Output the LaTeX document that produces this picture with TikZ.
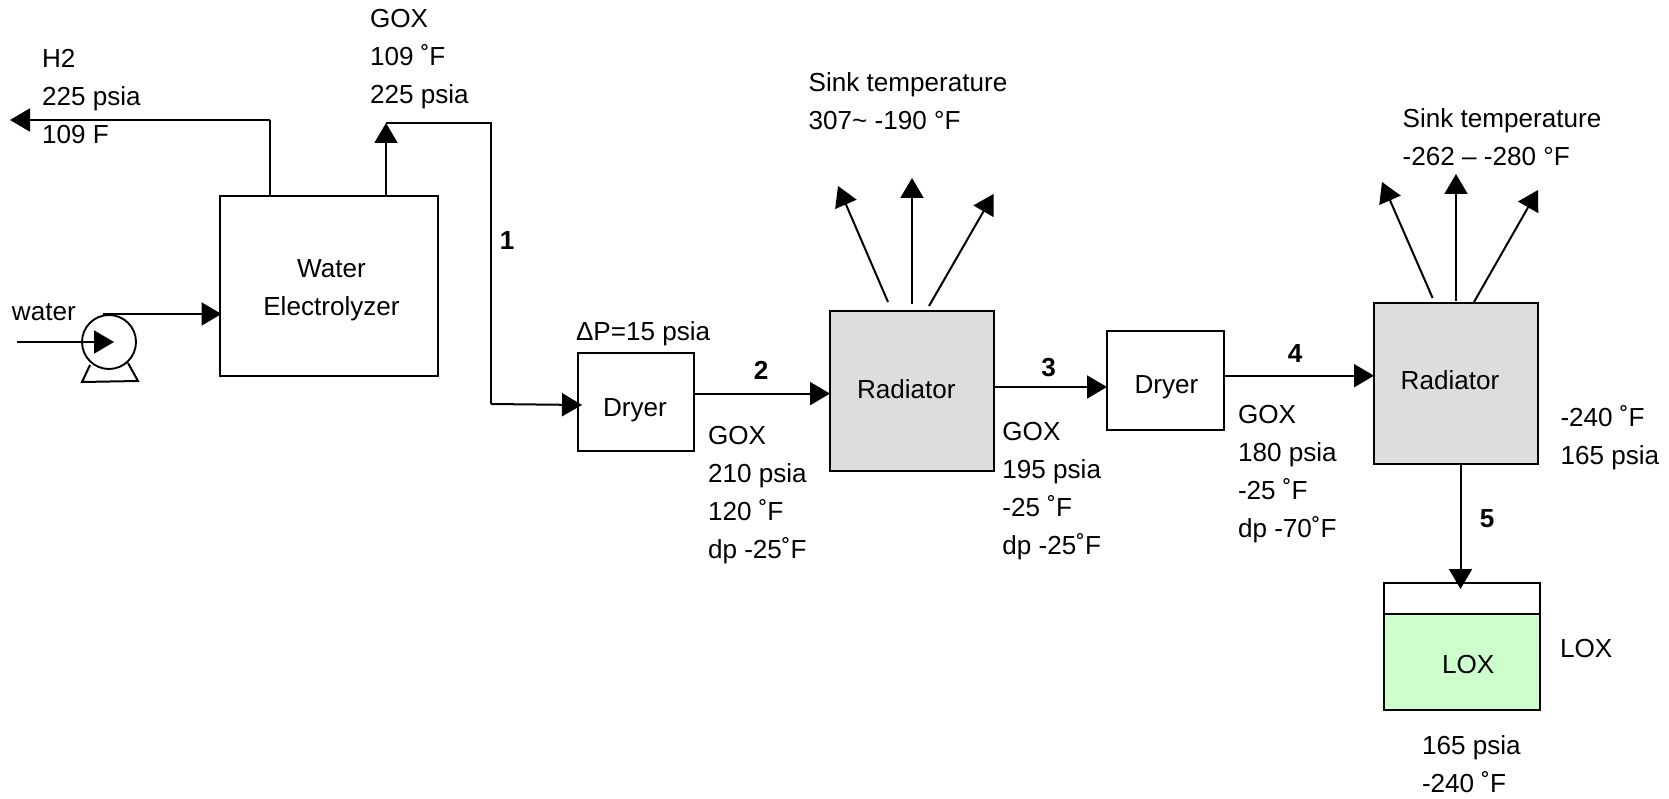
\documentclass[tikz,border=0pt]{standalone}
\usepackage{fontspec}
\setmainfont{Liberation Sans}
\usetikzlibrary{arrows.meta}
\definecolor{liquid}{RGB}{204,255,204}
\definecolor{radgray}{RGB}{221,221,221}
\tikzset{
  line/.style={line width=2pt,black,line cap=butt,line join=miter},
  flow/.style={line,-{Triangle[length=20pt,width=23pt]}},
  unit/.style={draw=black,line width=1.9pt,inner sep=0pt,outer sep=0pt,anchor=center},
  lab/.style={inner sep=0pt,outer sep=0pt,anchor=base west,align=left,font=\fontsize{26.1}{38}\selectfont},
  mid/.style={inner sep=0pt,outer sep=0pt,anchor=base,font=\fontsize{26.1}{38}\selectfont},
  num/.style={inner sep=0pt,outer sep=0pt,anchor=base,font=\fontsize{26.1}{38}\selectfont\bfseries},
}
\begin{document}
\begin{tikzpicture}[x=1pt,y=-1pt]
\useasboundingbox (0,0) rectangle (1669,799);
% units
\node[unit,minimum width=218pt,minimum height=180pt] (elec) at (329,286) {};
\node[unit,minimum width=116pt,minimum height=98pt] (dry1) at (636,402) {};
\node[unit,fill=radgray,minimum width=164pt,minimum height=160pt] (rad1) at (912,391) {};
\node[unit,minimum width=117pt,minimum height=99pt] (dry2) at (1165.5,380.5) {};
\node[unit,fill=radgray,minimum width=164pt,minimum height=161pt] (rad2) at (1456,383.5) {};
\node[unit,minimum width=156pt,minimum height=127pt] (tank) at (1462,646.5) {};
\node[unit,fill=liquid,minimum width=156pt,minimum height=96pt] (liq) at (1462,662) {};
\node[circle,draw=black,line width=1.9pt,fill=white,inner sep=0pt,outer sep=0pt,minimum size=54pt] (pump) at (109,342) {};
% pump stand
\coordinate (legA) at (90,365);
\coordinate (legB) at (82,382);
\coordinate (legC) at (138,381);
\coordinate (legD) at (128,363);
\draw[line] (legA) -- (legB) -- (legC) -- (legD);
% free ends and bends
\coordinate (wsrc) at (17,342);
\coordinate (ptop) at (103,314);
\coordinate (h2bend) at (270,120);
\coordinate (h2end) at (10,120);
\coordinate (goxtip) at (386,123);
\coordinate (goxr) at (491,123);
\coordinate (goxd) at (491,404);
\coordinate (s1a) at (888,302);
\coordinate (s1b) at (838,186);
\coordinate (s2a) at (912,304);
\coordinate (s2b) at (912,178);
\coordinate (s3a) at (929,306);
\coordinate (s3b) at (993.5,194);
\coordinate (t1a) at (1432.6,298);
\coordinate (t1b) at (1382,182);
\coordinate (t2a) at (1456,301);
\coordinate (t2b) at (1456,174);
\coordinate (t3a) at (1474,302);
\coordinate (t3b) at (1538,190);
% connectors
\draw[flow] (wsrc) -- ([xshift=5pt]pump.center);
\draw[flow] (ptop) -- ([xshift=1.5pt,yshift=-28pt]elec.west);
\draw[line] ([xshift=-59pt]elec.north) -- (h2bend);
\draw[flow] (h2bend) -- (h2end);
\draw[flow] ([xshift=57pt]elec.north) -- (goxtip);
\draw[line] (goxtip) -- (goxr) -- (goxd);
\draw[flow] (goxd) -- ([xshift=4pt,yshift=-3pt]dry1.west);
\draw[flow] ([yshift=8.4pt]dry1.east) -- ([yshift=-2.6pt]rad1.west);
\draw[flow] ([yshift=4pt]rad1.east) -- ([yshift=-6.5pt]dry2.west);
\draw[flow] ([yshift=4.8pt]dry2.east) -- ([yshift=7.8pt]rad2.west);
\draw[flow] ([xshift=4.5pt]rad2.south) -- ([xshift=-1.5pt,yshift=-6pt]tank.north);
\draw[flow] (s1a) -- (s1b);
\draw[flow] (s2a) -- (s2b);
\draw[flow] (s3a) -- (s3b);
\draw[flow] (t1a) -- (t1b);
\draw[flow] (t2a) -- (t2b);
\draw[flow] (t3a) -- (t3b);
% labels
\node[lab] (lwater) at (12,320) {water};
\node[lab] (lh2) at (42,144) {H2\\225 psia\\109 F};
\node[lab] (lgox0) at (370,104) {GOX\\109 ˚F\\225 psia};
\node[mid] (lw1) at (331.5,278) {Water};
\node[mid] (lw2) at (331.5,316) {Electrolyzer};
\node[num] (n1) at (507,250) {1};
\node[num] (n2) at (761,379) {2};
\node[num] (n3) at (1048.6,376) {3};
\node[num] (n4) at (1295,362) {4};
\node[num] (n5) at (1487,527) {5};
\node[lab] (ldp) at (576,340) {ΔP=15 psia};
\node[mid] (ld1) at (635,416) {Dryer};
\node[mid] (ld2) at (1166.5,393) {Dryer};
\node[lab] (lr1) at (857,398) {Radiator};
\node[lab] (lr2) at (1400.7,389) {Radiator};
\node[lab] (ls1) at (808.6,130) {Sink temperature\\307\textasciitilde{} -190 °F};
\node[lab] (ls2) at (1402.6,166) {Sink temperature\\-262 – -280 °F};
\node[lab] (lg2) at (708,558) {GOX\\210 psia\\120 ˚F\\dp -25˚F};
\node[lab] (lg3) at (1002.4,554) {GOX\\195 psia\\-25 ˚F\\dp -25˚F};
\node[lab] (lg4) at (1238,537) {GOX\\180 psia\\-25 ˚F\\dp -70˚F};
\node[lab] (lr2out) at (1560.5,464) {-240 ˚F\\165 psia};
\node[lab] (ltank) at (1442,673) {LOX};
\node[lab] (lout) at (1560,657) {LOX};
\node[lab] (lbot) at (1422,792) {165 psia\\-240 ˚F};
\end{tikzpicture}
\end{document}
